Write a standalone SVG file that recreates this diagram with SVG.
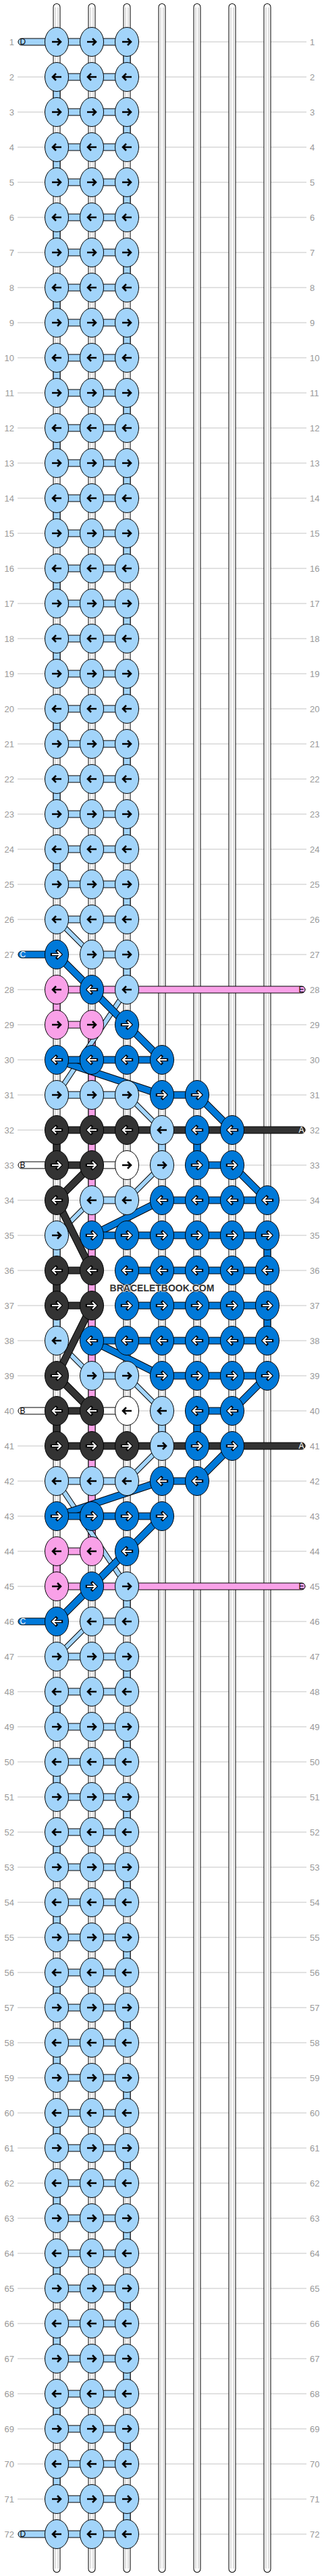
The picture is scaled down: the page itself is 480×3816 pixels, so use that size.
<svg xmlns="http://www.w3.org/2000/svg" xmlns:xlink="http://www.w3.org/1999/xlink" width="480" height="3816" viewBox="0 0 480 3816">
<style>
.lb{fill:#a2d4fa}.db{fill:#0079d9}.pk{fill:#f9a1e8}.bk{fill:#333}.wh{fill:#fff}
.o{stroke:#000;stroke-width:1}
.tl{font-family:"Liberation Sans",Arial,sans-serif;font-size:13px;fill:#999;text-anchor:end}
.tr{font-family:"Liberation Sans",Arial,sans-serif;font-size:13px;fill:#999}
.lt{font-family:"Liberation Sans",Arial,sans-serif;font-size:12px}
</style>
<defs>
<path id="a" d="M-7,0H5.5M1,-5L6,0L1,5" fill="none"/>
<g id="ab"><use href="#a" stroke="#000" stroke-width="2.6"/></g>
<g id="aw"><use href="#a" stroke="#000" stroke-width="4.4" stroke-linecap="square"/><use href="#a" stroke="#fff" stroke-width="2.2"/></g>
<ellipse id="e" rx="17.5" ry="21.5" stroke="#000" stroke-width="1"/>
<g id="LR"><use href="#e" class="lb"/><use href="#ab"/></g>
<g id="LL"><use href="#e" class="lb"/><use href="#ab" transform="scale(-1,1)"/></g>
<g id="DR"><use href="#e" class="db"/><use href="#aw"/></g>
<g id="DL"><use href="#e" class="db"/><use href="#aw" transform="scale(-1,1)"/></g>
<g id="PR"><use href="#e" class="pk"/><use href="#ab"/></g>
<g id="PL"><use href="#e" class="pk"/><use href="#ab" transform="scale(-1,1)"/></g>
<g id="KR"><use href="#e" class="bk"/><use href="#aw"/></g>
<g id="KL"><use href="#e" class="bk"/><use href="#aw" transform="scale(-1,1)"/></g>
<g id="WR"><use href="#e" class="wh"/><use href="#ab"/></g>
<g id="WL"><use href="#e" class="wh"/><use href="#ab" transform="scale(-1,1)"/></g>
</defs>
<rect width="480" height="3816" fill="#fff"/>
<g id="grid">
<path stroke="#c4c4c4" stroke-width="1" fill="none" d="M26,62H454M26,114H454M26,166H454M26,218H454M26,270H454M26,322H454M26,374H454M26,426H454M26,478H454M26,530H454M26,582H454M26,634H454M26,686H454M26,738H454M26,790H454M26,842H454M26,894H454M26,946H454M26,998H454M26,1050H454M26,1102H454M26,1154H454M26,1206H454M26,1258H454M26,1310H454M26,1362H454M26,1414H454M26,1466H454M26,1518H454M26,1570H454M26,1622H454M26,1674H454M26,1726H454M26,1778H454M26,1830H454M26,1882H454M26,1934H454M26,1986H454M26,2038H454M26,2090H454M26,2142H454M26,2194H454M26,2246H454M26,2298H454M26,2350H454M26,2402H454M26,2454H454M26,2506H454M26,2558H454M26,2610H454M26,2662H454M26,2714H454M26,2766H454M26,2818H454M26,2870H454M26,2922H454M26,2974H454M26,3026H454M26,3078H454M26,3130H454M26,3182H454M26,3234H454M26,3286H454M26,3338H454M26,3390H454M26,3442H454M26,3494H454M26,3546H454M26,3598H454M26,3650H454M26,3702H454M26,3754H454"/>
</g>
<g id="labels-left" class="tl">
<text x="21" y="66.5">1</text><text x="21" y="118.5">2</text><text x="21" y="170.5">3</text><text x="21" y="222.5">4</text><text x="21" y="274.5">5</text><text x="21" y="326.5">6</text><text x="21" y="378.5">7</text><text x="21" y="430.5">8</text><text x="21" y="482.5">9</text><text x="21" y="534.5">10</text><text x="21" y="586.5">11</text><text x="21" y="638.5">12</text><text x="21" y="690.5">13</text><text x="21" y="742.5">14</text><text x="21" y="794.5">15</text><text x="21" y="846.5">16</text><text x="21" y="898.5">17</text><text x="21" y="950.5">18</text><text x="21" y="1002.5">19</text><text x="21" y="1054.5">20</text><text x="21" y="1106.5">21</text><text x="21" y="1158.5">22</text><text x="21" y="1210.5">23</text><text x="21" y="1262.5">24</text><text x="21" y="1314.5">25</text><text x="21" y="1366.5">26</text><text x="21" y="1418.5">27</text><text x="21" y="1470.5">28</text><text x="21" y="1522.5">29</text><text x="21" y="1574.5">30</text><text x="21" y="1626.5">31</text><text x="21" y="1678.5">32</text><text x="21" y="1730.5">33</text><text x="21" y="1782.5">34</text><text x="21" y="1834.5">35</text><text x="21" y="1886.5">36</text><text x="21" y="1938.5">37</text><text x="21" y="1990.5">38</text><text x="21" y="2042.5">39</text><text x="21" y="2094.5">40</text><text x="21" y="2146.5">41</text><text x="21" y="2198.5">42</text><text x="21" y="2250.5">43</text><text x="21" y="2302.5">44</text><text x="21" y="2354.5">45</text><text x="21" y="2406.5">46</text><text x="21" y="2458.5">47</text><text x="21" y="2510.5">48</text><text x="21" y="2562.5">49</text><text x="21" y="2614.5">50</text><text x="21" y="2666.5">51</text><text x="21" y="2718.5">52</text><text x="21" y="2770.5">53</text><text x="21" y="2822.5">54</text><text x="21" y="2874.5">55</text><text x="21" y="2926.5">56</text><text x="21" y="2978.5">57</text><text x="21" y="3030.5">58</text><text x="21" y="3082.5">59</text><text x="21" y="3134.5">60</text><text x="21" y="3186.5">61</text><text x="21" y="3238.5">62</text><text x="21" y="3290.5">63</text><text x="21" y="3342.5">64</text><text x="21" y="3394.5">65</text><text x="21" y="3446.5">66</text><text x="21" y="3498.5">67</text><text x="21" y="3550.5">68</text><text x="21" y="3602.5">69</text><text x="21" y="3654.5">70</text><text x="21" y="3706.5">71</text><text x="21" y="3758.5">72</text>
</g>
<g id="labels-right" class="tr">
<text x="459" y="66.5">1</text><text x="459" y="118.5">2</text><text x="459" y="170.5">3</text><text x="459" y="222.5">4</text><text x="459" y="274.5">5</text><text x="459" y="326.5">6</text><text x="459" y="378.5">7</text><text x="459" y="430.5">8</text><text x="459" y="482.5">9</text><text x="459" y="534.5">10</text><text x="459" y="586.5">11</text><text x="459" y="638.5">12</text><text x="459" y="690.5">13</text><text x="459" y="742.5">14</text><text x="459" y="794.5">15</text><text x="459" y="846.5">16</text><text x="459" y="898.5">17</text><text x="459" y="950.5">18</text><text x="459" y="1002.5">19</text><text x="459" y="1054.5">20</text><text x="459" y="1106.5">21</text><text x="459" y="1158.5">22</text><text x="459" y="1210.5">23</text><text x="459" y="1262.5">24</text><text x="459" y="1314.5">25</text><text x="459" y="1366.5">26</text><text x="459" y="1418.5">27</text><text x="459" y="1470.5">28</text><text x="459" y="1522.5">29</text><text x="459" y="1574.5">30</text><text x="459" y="1626.5">31</text><text x="459" y="1678.5">32</text><text x="459" y="1730.5">33</text><text x="459" y="1782.5">34</text><text x="459" y="1834.5">35</text><text x="459" y="1886.5">36</text><text x="459" y="1938.5">37</text><text x="459" y="1990.5">38</text><text x="459" y="2042.5">39</text><text x="459" y="2094.5">40</text><text x="459" y="2146.5">41</text><text x="459" y="2198.5">42</text><text x="459" y="2250.5">43</text><text x="459" y="2302.5">44</text><text x="459" y="2354.5">45</text><text x="459" y="2406.5">46</text><text x="459" y="2458.5">47</text><text x="459" y="2510.5">48</text><text x="459" y="2562.5">49</text><text x="459" y="2614.5">50</text><text x="459" y="2666.5">51</text><text x="459" y="2718.5">52</text><text x="459" y="2770.5">53</text><text x="459" y="2822.5">54</text><text x="459" y="2874.5">55</text><text x="459" y="2926.5">56</text><text x="459" y="2978.5">57</text><text x="459" y="3030.5">58</text><text x="459" y="3082.5">59</text><text x="459" y="3134.5">60</text><text x="459" y="3186.5">61</text><text x="459" y="3238.5">62</text><text x="459" y="3290.5">63</text><text x="459" y="3342.5">64</text><text x="459" y="3394.5">65</text><text x="459" y="3446.5">66</text><text x="459" y="3498.5">67</text><text x="459" y="3550.5">68</text><text x="459" y="3602.5">69</text><text x="459" y="3654.5">70</text><text x="459" y="3706.5">71</text><text x="459" y="3758.5">72</text>
</g>
<g id="warps" fill="none">
<path stroke="#000" stroke-width="11" stroke-linecap="round" d="M84,10.5V3805.5M136,10.5V3805.5M188,10.5V3805.5M240,10.5V3805.5M292,10.5V3805.5M344,10.5V3805.5M396,10.5V3805.5"/>
<path stroke="#fff" stroke-width="9" stroke-linecap="round" d="M84,10.5V3805.5M136,10.5V3805.5M188,10.5V3805.5M240,10.5V3805.5M292,10.5V3805.5M344,10.5V3805.5M396,10.5V3805.5"/>
<path stroke="#bbb" stroke-width="5" d="M84,11V3805M136,11V3805M188,11V3805M240,11V3805M292,11V3805M344,11V3805M396,11V3805"/>
<path stroke="#fff" stroke-width="3" d="M84,11V3805M136,11V3805M188,11V3805M240,11V3805M292,11V3805M344,11V3805M396,11V3805"/>
</g>
<g id="connectors">
<g id="vertical-segments" class="o">
<path class="lb" d="M183,62h10v52h-10zM183,166h10v52h-10zM183,270h10v52h-10zM183,374h10v52h-10zM183,478h10v52h-10zM183,582h10v52h-10zM183,686h10v52h-10zM183,790h10v52h-10zM183,894h10v52h-10zM183,998h10v52h-10zM183,1102h10v52h-10zM183,1206h10v52h-10zM183,1310h10v52h-10zM79,114h10v52h-10zM79,218h10v52h-10zM79,322h10v52h-10zM79,426h10v52h-10zM79,530h10v52h-10zM79,634h10v52h-10zM79,738h10v52h-10zM79,842h10v52h-10zM79,946h10v52h-10zM79,1050h10v52h-10zM79,1154h10v52h-10zM79,1258h10v52h-10zM183,1414h10v52h-10zM183,2350h10v52h-10zM235,1674h10v52h-10zM235,2090h10v52h-10zM79,1830h10v52h-10zM79,1934h10v52h-10zM183,2454h10v52h-10zM183,2558h10v52h-10zM183,2662h10v52h-10zM183,2766h10v52h-10zM183,2870h10v52h-10zM183,2974h10v52h-10zM183,3078h10v52h-10zM183,3182h10v52h-10zM183,3286h10v52h-10zM183,3390h10v52h-10zM183,3494h10v52h-10zM183,3598h10v52h-10zM183,3702h10v52h-10zM79,2506h10v52h-10zM79,2610h10v52h-10zM79,2714h10v52h-10zM79,2818h10v52h-10zM79,2922h10v52h-10zM79,3026h10v52h-10zM79,3130h10v52h-10zM79,3234h10v52h-10zM79,3338h10v52h-10zM79,3442h10v52h-10zM79,3546h10v52h-10zM79,3650h10v52h-10z"/>
<path class="pk" d="M79,1466h10v52h-10zM79,2298h10v52h-10zM131,1518h10v780h-10z"/>
<path class="bk" d="M79,1674h10v52h-10zM79,1882h10v52h-10zM79,2090h10v52h-10z"/>
<path class="db" d="M287,1674h10v52h-10zM287,2090h10v52h-10zM391,1830h10v52h-10zM391,1934h10v52h-10z"/>
</g>
<g id="diagonals" fill="none">
<path stroke="#000" stroke-width="8" d="M84,1362L136,1414M188,1466L84,1622M188,1622L240,1674M240,1726L188,1778M136,1778L84,1830M84,1986L136,2038M188,2038L240,2090M240,2142L188,2194M84,2194L188,2350M136,2402L84,2454"/>
<path stroke="#a2d4fa" stroke-width="6" d="M84,1362L136,1414M188,1466L84,1622M188,1622L240,1674M240,1726L188,1778M136,1778L84,1830M84,1986L136,2038M188,2038L240,2090M240,2142L188,2194M84,2194L188,2350M136,2402L84,2454"/>
<path stroke="#000" stroke-width="11" d="M84,1414L136,1466M136,1466L188,1518M188,1518L240,1570M84,1570L240,1622M292,1622L344,1674M344,1726L396,1778M240,1778L136,1830M136,1986L240,2038M396,2038L344,2090M344,2142L292,2194M240,2194L84,2246M240,2246L188,2298M188,2298L136,2350M136,2350L84,2402"/>
<path stroke="#0079d9" stroke-width="9" d="M84,1414L136,1466M136,1466L188,1518M188,1518L240,1570M84,1570L240,1622M292,1622L344,1674M344,1726L396,1778M240,1778L136,1830M136,1986L240,2038M396,2038L344,2090M344,2142L292,2194M240,2194L84,2246M240,2246L188,2298M188,2298L136,2350M136,2350L84,2402"/>
<path stroke="#000" stroke-width="11" d="M136,1726L84,1778M84,1778L136,1882M136,1934L84,2038M84,2038L136,2090"/>
<path stroke="#333" stroke-width="9" d="M136,1726L84,1778M84,1778L136,1882M136,1934L84,2038M84,2038L136,2090"/>
</g>
<g id="horizontal-bars" class="o">
<path class="lb" d="M84,109h104v10h-104zM84,161h104v10h-104zM84,213h104v10h-104zM84,265h104v10h-104zM84,317h104v10h-104zM84,369h104v10h-104zM84,421h104v10h-104zM84,473h104v10h-104zM84,525h104v10h-104zM84,577h104v10h-104zM84,629h104v10h-104zM84,681h104v10h-104zM84,733h104v10h-104zM84,785h104v10h-104zM84,837h104v10h-104zM84,889h104v10h-104zM84,941h104v10h-104zM84,993h104v10h-104zM84,1045h104v10h-104zM84,1097h104v10h-104zM84,1149h104v10h-104zM84,1201h104v10h-104zM84,1253h104v10h-104zM84,1305h104v10h-104zM84,1357h104v10h-104zM136,1409h52v10h-52zM84,1617h104v10h-104zM136,1773h52v10h-52zM136,2033h52v10h-52zM84,2189h104v10h-104zM136,2397h52v10h-52zM84,2449h104v10h-104zM84,2501h104v10h-104zM84,2553h104v10h-104zM84,2605h104v10h-104zM84,2657h104v10h-104zM84,2709h104v10h-104zM84,2761h104v10h-104zM84,2813h104v10h-104zM84,2865h104v10h-104zM84,2917h104v10h-104zM84,2969h104v10h-104zM84,3021h104v10h-104zM84,3073h104v10h-104zM84,3125h104v10h-104zM84,3177h104v10h-104zM84,3229h104v10h-104zM84,3281h104v10h-104zM84,3333h104v10h-104zM84,3385h104v10h-104zM84,3437h104v10h-104zM84,3489h104v10h-104zM84,3541h104v10h-104zM84,3593h104v10h-104zM84,3645h104v10h-104zM84,3697h104v10h-104z"/>
<path class="db" d="M84,1565h156v10h-156zM240,1617h52v10h-52zM292,1721h52v10h-52zM240,1773h156v10h-156zM136,1825h260v10h-260zM188,1877h208v10h-208zM188,1929h208v10h-208zM136,1981h260v10h-260zM240,2033h156v10h-156zM292,2085h52v10h-52zM240,2189h52v10h-52zM84,2241h156v10h-156z"/>
<path class="pk" d="M84,1513h52v10h-52zM84,2293h52v10h-52z"/>
<path class="bk" d="M84,1721h52v10h-52zM84,1877h52v10h-52zM84,1929h52v10h-52zM84,2085h52v10h-52z"/>
<path class="wh" d="M136,1721h52v10h-52zM136,2085h52v10h-52z"/>
<rect class="lb" x="27" y="57" width="161" height="10" rx="5"/>
<rect class="lb" x="27" y="3749" width="161" height="10" rx="5"/>
<rect class="db" x="27" y="1409" width="57" height="10" rx="5"/>
<rect class="db" x="27" y="2397" width="57" height="10" rx="5"/>
<rect class="wh" x="27" y="1721" width="57" height="10" rx="5"/>
<rect class="wh" x="27" y="2085" width="57" height="10" rx="5"/>
<rect class="pk" x="84" y="1461" width="368" height="10" rx="5"/>
<rect class="pk" x="84" y="2345" width="368" height="10" rx="5"/>
<rect class="bk" x="84" y="1669" width="368" height="10" rx="5"/>
<rect class="bk" x="84" y="2137" width="368" height="10" rx="5"/>
</g>
<g id="thread-ends" class="lt">
<text x="29.5" y="66">D</text>
<text x="29.5" y="3758">D</text>
<text x="29.5" y="1418" fill="#fff">C</text>
<text x="29.5" y="2406" fill="#fff">C</text>
<text x="29.5" y="1730">B</text>
<text x="29.5" y="2094">B</text>
<text x="450.5" y="1470" text-anchor="end">E</text>
<text x="450.5" y="2354" text-anchor="end">E</text>
<text x="450.5" y="1678" text-anchor="end" fill="#fff">A</text>
<text x="450.5" y="2146" text-anchor="end" fill="#fff">A</text>
</g>
</g>
<g id="nodes">
<g id="n1-1"><use href="#LR" x="84" y="62"/></g><g id="n1-2"><use href="#LR" x="136" y="62"/></g><g id="n1-3"><use href="#LR" x="188" y="62"/></g>
<g id="n2-1"><use href="#LL" x="84" y="114"/></g><g id="n2-2"><use href="#LL" x="136" y="114"/></g><g id="n2-3"><use href="#LL" x="188" y="114"/></g>
<g id="n3-1"><use href="#LR" x="84" y="166"/></g><g id="n3-2"><use href="#LR" x="136" y="166"/></g><g id="n3-3"><use href="#LR" x="188" y="166"/></g>
<g id="n4-1"><use href="#LL" x="84" y="218"/></g><g id="n4-2"><use href="#LL" x="136" y="218"/></g><g id="n4-3"><use href="#LL" x="188" y="218"/></g>
<g id="n5-1"><use href="#LR" x="84" y="270"/></g><g id="n5-2"><use href="#LR" x="136" y="270"/></g><g id="n5-3"><use href="#LR" x="188" y="270"/></g>
<g id="n6-1"><use href="#LL" x="84" y="322"/></g><g id="n6-2"><use href="#LL" x="136" y="322"/></g><g id="n6-3"><use href="#LL" x="188" y="322"/></g>
<g id="n7-1"><use href="#LR" x="84" y="374"/></g><g id="n7-2"><use href="#LR" x="136" y="374"/></g><g id="n7-3"><use href="#LR" x="188" y="374"/></g>
<g id="n8-1"><use href="#LL" x="84" y="426"/></g><g id="n8-2"><use href="#LL" x="136" y="426"/></g><g id="n8-3"><use href="#LL" x="188" y="426"/></g>
<g id="n9-1"><use href="#LR" x="84" y="478"/></g><g id="n9-2"><use href="#LR" x="136" y="478"/></g><g id="n9-3"><use href="#LR" x="188" y="478"/></g>
<g id="n10-1"><use href="#LL" x="84" y="530"/></g><g id="n10-2"><use href="#LL" x="136" y="530"/></g><g id="n10-3"><use href="#LL" x="188" y="530"/></g>
<g id="n11-1"><use href="#LR" x="84" y="582"/></g><g id="n11-2"><use href="#LR" x="136" y="582"/></g><g id="n11-3"><use href="#LR" x="188" y="582"/></g>
<g id="n12-1"><use href="#LL" x="84" y="634"/></g><g id="n12-2"><use href="#LL" x="136" y="634"/></g><g id="n12-3"><use href="#LL" x="188" y="634"/></g>
<g id="n13-1"><use href="#LR" x="84" y="686"/></g><g id="n13-2"><use href="#LR" x="136" y="686"/></g><g id="n13-3"><use href="#LR" x="188" y="686"/></g>
<g id="n14-1"><use href="#LL" x="84" y="738"/></g><g id="n14-2"><use href="#LL" x="136" y="738"/></g><g id="n14-3"><use href="#LL" x="188" y="738"/></g>
<g id="n15-1"><use href="#LR" x="84" y="790"/></g><g id="n15-2"><use href="#LR" x="136" y="790"/></g><g id="n15-3"><use href="#LR" x="188" y="790"/></g>
<g id="n16-1"><use href="#LL" x="84" y="842"/></g><g id="n16-2"><use href="#LL" x="136" y="842"/></g><g id="n16-3"><use href="#LL" x="188" y="842"/></g>
<g id="n17-1"><use href="#LR" x="84" y="894"/></g><g id="n17-2"><use href="#LR" x="136" y="894"/></g><g id="n17-3"><use href="#LR" x="188" y="894"/></g>
<g id="n18-1"><use href="#LL" x="84" y="946"/></g><g id="n18-2"><use href="#LL" x="136" y="946"/></g><g id="n18-3"><use href="#LL" x="188" y="946"/></g>
<g id="n19-1"><use href="#LR" x="84" y="998"/></g><g id="n19-2"><use href="#LR" x="136" y="998"/></g><g id="n19-3"><use href="#LR" x="188" y="998"/></g>
<g id="n20-1"><use href="#LL" x="84" y="1050"/></g><g id="n20-2"><use href="#LL" x="136" y="1050"/></g><g id="n20-3"><use href="#LL" x="188" y="1050"/></g>
<g id="n21-1"><use href="#LR" x="84" y="1102"/></g><g id="n21-2"><use href="#LR" x="136" y="1102"/></g><g id="n21-3"><use href="#LR" x="188" y="1102"/></g>
<g id="n22-1"><use href="#LL" x="84" y="1154"/></g><g id="n22-2"><use href="#LL" x="136" y="1154"/></g><g id="n22-3"><use href="#LL" x="188" y="1154"/></g>
<g id="n23-1"><use href="#LR" x="84" y="1206"/></g><g id="n23-2"><use href="#LR" x="136" y="1206"/></g><g id="n23-3"><use href="#LR" x="188" y="1206"/></g>
<g id="n24-1"><use href="#LL" x="84" y="1258"/></g><g id="n24-2"><use href="#LL" x="136" y="1258"/></g><g id="n24-3"><use href="#LL" x="188" y="1258"/></g>
<g id="n25-1"><use href="#LR" x="84" y="1310"/></g><g id="n25-2"><use href="#LR" x="136" y="1310"/></g><g id="n25-3"><use href="#LR" x="188" y="1310"/></g>
<g id="n26-1"><use href="#LL" x="84" y="1362"/></g><g id="n26-2"><use href="#LL" x="136" y="1362"/></g><g id="n26-3"><use href="#LL" x="188" y="1362"/></g>
<g id="n27-1"><use href="#DR" x="84" y="1414"/></g><g id="n27-2"><use href="#LR" x="136" y="1414"/></g><g id="n27-3"><use href="#LR" x="188" y="1414"/></g>
<g id="n28-1"><use href="#PL" x="84" y="1466"/></g><g id="n28-2"><use href="#DL" x="136" y="1466"/></g><g id="n28-3"><use href="#LL" x="188" y="1466"/></g>
<g id="n29-1"><use href="#PR" x="84" y="1518"/></g><g id="n29-2"><use href="#PR" x="136" y="1518"/></g><g id="n29-3"><use href="#DR" x="188" y="1518"/></g>
<g id="n30-1"><use href="#DL" x="84" y="1570"/></g><g id="n30-2"><use href="#DL" x="136" y="1570"/></g><g id="n30-3"><use href="#DL" x="188" y="1570"/></g><g id="n30-4"><use href="#DL" x="240" y="1570"/></g>
<g id="n31-1"><use href="#LR" x="84" y="1622"/></g><g id="n31-2"><use href="#LR" x="136" y="1622"/></g><g id="n31-3"><use href="#LR" x="188" y="1622"/></g><g id="n31-4"><use href="#DR" x="240" y="1622"/></g><g id="n31-5"><use href="#DR" x="292" y="1622"/></g>
<g id="n32-1"><use href="#KL" x="84" y="1674"/></g><g id="n32-2"><use href="#KL" x="136" y="1674"/></g><g id="n32-3"><use href="#KL" x="188" y="1674"/></g><g id="n32-4"><use href="#LL" x="240" y="1674"/></g><g id="n32-5"><use href="#DL" x="292" y="1674"/></g><g id="n32-6"><use href="#DL" x="344" y="1674"/></g>
<g id="n33-1"><use href="#KR" x="84" y="1726"/></g><g id="n33-2"><use href="#KR" x="136" y="1726"/></g><g id="n33-3"><use href="#WR" x="188" y="1726"/></g><g id="n33-4"><use href="#LR" x="240" y="1726"/></g><g id="n33-5"><use href="#DR" x="292" y="1726"/></g><g id="n33-6"><use href="#DR" x="344" y="1726"/></g>
<g id="n34-1"><use href="#KL" x="84" y="1778"/></g><g id="n34-2"><use href="#LL" x="136" y="1778"/></g><g id="n34-3"><use href="#LL" x="188" y="1778"/></g><g id="n34-4"><use href="#DL" x="240" y="1778"/></g><g id="n34-5"><use href="#DL" x="292" y="1778"/></g><g id="n34-6"><use href="#DL" x="344" y="1778"/></g><g id="n34-7"><use href="#DL" x="396" y="1778"/></g>
<g id="n35-1"><use href="#LR" x="84" y="1830"/></g><g id="n35-2"><use href="#DR" x="136" y="1830"/></g><g id="n35-3"><use href="#DR" x="188" y="1830"/></g><g id="n35-4"><use href="#DR" x="240" y="1830"/></g><g id="n35-5"><use href="#DR" x="292" y="1830"/></g><g id="n35-6"><use href="#DR" x="344" y="1830"/></g><g id="n35-7"><use href="#DR" x="396" y="1830"/></g>
<g id="n36-1"><use href="#KL" x="84" y="1882"/></g><g id="n36-2"><use href="#KL" x="136" y="1882"/></g><g id="n36-3"><use href="#DL" x="188" y="1882"/></g><g id="n36-4"><use href="#DL" x="240" y="1882"/></g><g id="n36-5"><use href="#DL" x="292" y="1882"/></g><g id="n36-6"><use href="#DL" x="344" y="1882"/></g><g id="n36-7"><use href="#DL" x="396" y="1882"/></g>
<g id="n37-1"><use href="#KR" x="84" y="1934"/></g><g id="n37-2"><use href="#KR" x="136" y="1934"/></g><g id="n37-3"><use href="#DR" x="188" y="1934"/></g><g id="n37-4"><use href="#DR" x="240" y="1934"/></g><g id="n37-5"><use href="#DR" x="292" y="1934"/></g><g id="n37-6"><use href="#DR" x="344" y="1934"/></g><g id="n37-7"><use href="#DR" x="396" y="1934"/></g>
<g id="n38-1"><use href="#LL" x="84" y="1986"/></g><g id="n38-2"><use href="#DL" x="136" y="1986"/></g><g id="n38-3"><use href="#DL" x="188" y="1986"/></g><g id="n38-4"><use href="#DL" x="240" y="1986"/></g><g id="n38-5"><use href="#DL" x="292" y="1986"/></g><g id="n38-6"><use href="#DL" x="344" y="1986"/></g><g id="n38-7"><use href="#DL" x="396" y="1986"/></g>
<g id="n39-1"><use href="#KR" x="84" y="2038"/></g><g id="n39-2"><use href="#LR" x="136" y="2038"/></g><g id="n39-3"><use href="#LR" x="188" y="2038"/></g><g id="n39-4"><use href="#DR" x="240" y="2038"/></g><g id="n39-5"><use href="#DR" x="292" y="2038"/></g><g id="n39-6"><use href="#DR" x="344" y="2038"/></g><g id="n39-7"><use href="#DR" x="396" y="2038"/></g>
<g id="n40-1"><use href="#KL" x="84" y="2090"/></g><g id="n40-2"><use href="#KL" x="136" y="2090"/></g><g id="n40-3"><use href="#WL" x="188" y="2090"/></g><g id="n40-4"><use href="#LL" x="240" y="2090"/></g><g id="n40-5"><use href="#DL" x="292" y="2090"/></g><g id="n40-6"><use href="#DL" x="344" y="2090"/></g>
<g id="n41-1"><use href="#KR" x="84" y="2142"/></g><g id="n41-2"><use href="#KR" x="136" y="2142"/></g><g id="n41-3"><use href="#KR" x="188" y="2142"/></g><g id="n41-4"><use href="#LR" x="240" y="2142"/></g><g id="n41-5"><use href="#DR" x="292" y="2142"/></g><g id="n41-6"><use href="#DR" x="344" y="2142"/></g>
<g id="n42-1"><use href="#LL" x="84" y="2194"/></g><g id="n42-2"><use href="#LL" x="136" y="2194"/></g><g id="n42-3"><use href="#LL" x="188" y="2194"/></g><g id="n42-4"><use href="#DL" x="240" y="2194"/></g><g id="n42-5"><use href="#DL" x="292" y="2194"/></g>
<g id="n43-1"><use href="#DR" x="84" y="2246"/></g><g id="n43-2"><use href="#DR" x="136" y="2246"/></g><g id="n43-3"><use href="#DR" x="188" y="2246"/></g><g id="n43-4"><use href="#DR" x="240" y="2246"/></g>
<g id="n44-1"><use href="#PL" x="84" y="2298"/></g><g id="n44-2"><use href="#PL" x="136" y="2298"/></g><g id="n44-3"><use href="#DL" x="188" y="2298"/></g>
<g id="n45-1"><use href="#PR" x="84" y="2350"/></g><g id="n45-2"><use href="#DR" x="136" y="2350"/></g><g id="n45-3"><use href="#LR" x="188" y="2350"/></g>
<g id="n46-1"><use href="#DL" x="84" y="2402"/></g><g id="n46-2"><use href="#LL" x="136" y="2402"/></g><g id="n46-3"><use href="#LL" x="188" y="2402"/></g>
<g id="n47-1"><use href="#LR" x="84" y="2454"/></g><g id="n47-2"><use href="#LR" x="136" y="2454"/></g><g id="n47-3"><use href="#LR" x="188" y="2454"/></g>
<g id="n48-1"><use href="#LL" x="84" y="2506"/></g><g id="n48-2"><use href="#LL" x="136" y="2506"/></g><g id="n48-3"><use href="#LL" x="188" y="2506"/></g>
<g id="n49-1"><use href="#LR" x="84" y="2558"/></g><g id="n49-2"><use href="#LR" x="136" y="2558"/></g><g id="n49-3"><use href="#LR" x="188" y="2558"/></g>
<g id="n50-1"><use href="#LL" x="84" y="2610"/></g><g id="n50-2"><use href="#LL" x="136" y="2610"/></g><g id="n50-3"><use href="#LL" x="188" y="2610"/></g>
<g id="n51-1"><use href="#LR" x="84" y="2662"/></g><g id="n51-2"><use href="#LR" x="136" y="2662"/></g><g id="n51-3"><use href="#LR" x="188" y="2662"/></g>
<g id="n52-1"><use href="#LL" x="84" y="2714"/></g><g id="n52-2"><use href="#LL" x="136" y="2714"/></g><g id="n52-3"><use href="#LL" x="188" y="2714"/></g>
<g id="n53-1"><use href="#LR" x="84" y="2766"/></g><g id="n53-2"><use href="#LR" x="136" y="2766"/></g><g id="n53-3"><use href="#LR" x="188" y="2766"/></g>
<g id="n54-1"><use href="#LL" x="84" y="2818"/></g><g id="n54-2"><use href="#LL" x="136" y="2818"/></g><g id="n54-3"><use href="#LL" x="188" y="2818"/></g>
<g id="n55-1"><use href="#LR" x="84" y="2870"/></g><g id="n55-2"><use href="#LR" x="136" y="2870"/></g><g id="n55-3"><use href="#LR" x="188" y="2870"/></g>
<g id="n56-1"><use href="#LL" x="84" y="2922"/></g><g id="n56-2"><use href="#LL" x="136" y="2922"/></g><g id="n56-3"><use href="#LL" x="188" y="2922"/></g>
<g id="n57-1"><use href="#LR" x="84" y="2974"/></g><g id="n57-2"><use href="#LR" x="136" y="2974"/></g><g id="n57-3"><use href="#LR" x="188" y="2974"/></g>
<g id="n58-1"><use href="#LL" x="84" y="3026"/></g><g id="n58-2"><use href="#LL" x="136" y="3026"/></g><g id="n58-3"><use href="#LL" x="188" y="3026"/></g>
<g id="n59-1"><use href="#LR" x="84" y="3078"/></g><g id="n59-2"><use href="#LR" x="136" y="3078"/></g><g id="n59-3"><use href="#LR" x="188" y="3078"/></g>
<g id="n60-1"><use href="#LL" x="84" y="3130"/></g><g id="n60-2"><use href="#LL" x="136" y="3130"/></g><g id="n60-3"><use href="#LL" x="188" y="3130"/></g>
<g id="n61-1"><use href="#LR" x="84" y="3182"/></g><g id="n61-2"><use href="#LR" x="136" y="3182"/></g><g id="n61-3"><use href="#LR" x="188" y="3182"/></g>
<g id="n62-1"><use href="#LL" x="84" y="3234"/></g><g id="n62-2"><use href="#LL" x="136" y="3234"/></g><g id="n62-3"><use href="#LL" x="188" y="3234"/></g>
<g id="n63-1"><use href="#LR" x="84" y="3286"/></g><g id="n63-2"><use href="#LR" x="136" y="3286"/></g><g id="n63-3"><use href="#LR" x="188" y="3286"/></g>
<g id="n64-1"><use href="#LL" x="84" y="3338"/></g><g id="n64-2"><use href="#LL" x="136" y="3338"/></g><g id="n64-3"><use href="#LL" x="188" y="3338"/></g>
<g id="n65-1"><use href="#LR" x="84" y="3390"/></g><g id="n65-2"><use href="#LR" x="136" y="3390"/></g><g id="n65-3"><use href="#LR" x="188" y="3390"/></g>
<g id="n66-1"><use href="#LL" x="84" y="3442"/></g><g id="n66-2"><use href="#LL" x="136" y="3442"/></g><g id="n66-3"><use href="#LL" x="188" y="3442"/></g>
<g id="n67-1"><use href="#LR" x="84" y="3494"/></g><g id="n67-2"><use href="#LR" x="136" y="3494"/></g><g id="n67-3"><use href="#LR" x="188" y="3494"/></g>
<g id="n68-1"><use href="#LL" x="84" y="3546"/></g><g id="n68-2"><use href="#LL" x="136" y="3546"/></g><g id="n68-3"><use href="#LL" x="188" y="3546"/></g>
<g id="n69-1"><use href="#LR" x="84" y="3598"/></g><g id="n69-2"><use href="#LR" x="136" y="3598"/></g><g id="n69-3"><use href="#LR" x="188" y="3598"/></g>
<g id="n70-1"><use href="#LL" x="84" y="3650"/></g><g id="n70-2"><use href="#LL" x="136" y="3650"/></g><g id="n70-3"><use href="#LL" x="188" y="3650"/></g>
<g id="n71-1"><use href="#LR" x="84" y="3702"/></g><g id="n71-2"><use href="#LR" x="136" y="3702"/></g><g id="n71-3"><use href="#LR" x="188" y="3702"/></g>
<g id="n72-1"><use href="#LL" x="84" y="3754"/></g><g id="n72-2"><use href="#LL" x="136" y="3754"/></g><g id="n72-3"><use href="#LL" x="188" y="3754"/></g>
</g>
<text id="watermark" x="240" y="1913" text-anchor="middle" font-family="'Liberation Sans',Arial,sans-serif" font-size="14" font-weight="bold" fill="#333" stroke="#fff" stroke-width="2" stroke-opacity="0.6" paint-order="stroke">BRACELETBOOK.COM</text>
</svg>
